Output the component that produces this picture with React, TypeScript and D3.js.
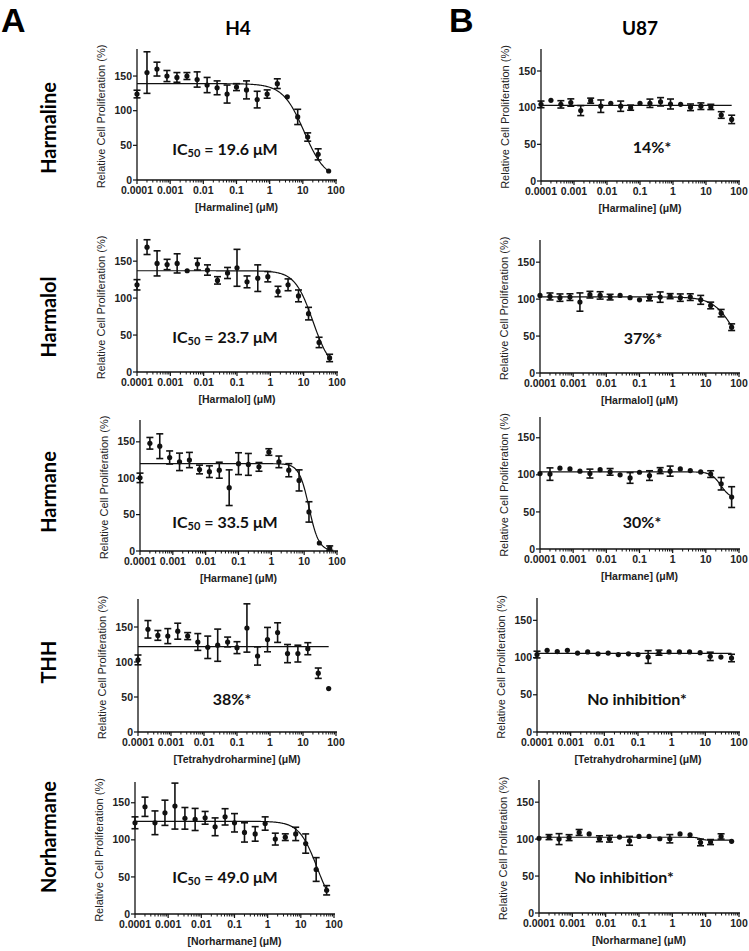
import React from "react";
import * as d3 from "d3";

// ---------- DATA ----------
const doses = [0.0001, 0.0002, 0.0004, 0.0008, 0.0016, 0.0032, 0.0065, 0.013, 0.026, 0.052, 0.1, 0.2, 0.42, 0.84, 1.7, 3.4, 7, 14, 29, 60];

const compounds = ["Harmaline", "Harmalol", "Harmane", "THH", "Norharmane"];
const xTitles = ["[Harmaline] (μM)", "[Harmalol] (μM)", "[Harmane] (μM)", "[Tetrahydroharmine] (μM)", "[Norharmane] (μM)"];
const cellLines = ["H4", "U87"];
const panelLetters = ["A", "B"];
const yTicks = [0, 50, 100, 150];
const xTicks = [0.0001, 0.001, 0.01, 0.1, 1, 10, 100];
const xTickLabels = ["0.0001", "0.001", "0.01", "0.1", "1", "10", "100"];

// H4 means / SEM
const h4Harmaline = [124, 155, 160, 150, 148, 150, 145, 137, 133, 124, 134, 130, 116, 124, 139, 120, 91, 62, 37, 13];
const h4HarmalineErr = [5.5, 30, 10, 8, 7, 5, 11, 11, 10, 13, 5, 13, 12, 6, 7, 0, 11, 6, 8, 0];
const h4Harmalol = [118, 169, 147, 145.5, 147, 137, 146, 138, 124, 134, 141, 122, 127, 129, 109, 118, 103, 79, 40, 19];
const h4HarmalolErr = [7, 10, 17, 7, 13, 0, 8, 7, 5, 7.5, 25, 8, 18, 7, 7, 8, 8, 8.5, 7, 5];
const h4Harmane = [100.5, 148, 144, 128.5, 122.5, 125, 112, 109, 111, 87, 120, 119, 115.6, 136, 122.5, 111, 97, 53.7, 11, 4];
const h4HarmaneErr = [6.5, 8, 17, 9, 12, 10.5, 6, 8, 11, 24.5, 15, 15, 6, 4.5, 8, 9, 14.5, 14, 0, 3];
const h4THH = [103, 146.7, 138, 137, 144, 137, 128.6, 121, 124, 128.6, 120.5, 148.6, 108.6, 132, 142, 112, 112, 119, 84, 62];
const h4THHErr = [7, 12.5, 7, 10.7, 11.4, 5, 12, 16, 23, 7, 8.5, 34.5, 13, 17.4, 14, 13, 12, 8.6, 7.4, 0];
const h4Norharmane = [123, 144.6, 123, 136.5, 145.5, 129, 127.5, 129.7, 117.6, 131, 123, 110, 108, 122, 101, 103.6, 108, 95, 60, 32];
const h4NorharmaneErr = [8, 13, 16, 17, 31, 14.6, 14.9, 8.6, 12, 11, 12.4, 13, 9.8, 9, 8, 4.5, 9, 13, 16, 6.3];

// U87 means / SEM
const u87Harmaline = [104.5, 110, 104.5, 107, 96, 109.5, 102, 106, 102, 100, 106, 106, 108, 105, 104.5, 100.5, 102, 101, 90, 84];
const u87HarmalineErr = [4.5, 0, 5, 5, 6.8, 3.5, 8.5, 0, 7, 3.5, 0, 5.7, 5.7, 6.8, 0, 4.5, 4.5, 3.6, 4.5, 5.7];
const u87Harmalol = [105, 103.6, 102, 102.7, 96, 106, 105, 102.7, 105, 102, 99, 102, 102.7, 104, 102, 102.7, 99, 91.4, 81, 62];
const u87HarmalolErr = [0, 4.7, 5, 4.5, 12.4, 4.5, 5, 3.8, 0, 0, 0, 4.3, 7, 3.4, 5, 4.5, 6, 4.5, 5, 4.5];
const u87Harmane = [101.7, 101, 109, 108, 105, 101.7, 107, 104, 100, 95.8, 103.5, 99, 105.7, 105, 108, 105.7, 104, 101, 88, 70];
const u87HarmaneErr = [0, 8.4, 0, 0, 0, 6, 0, 4.5, 0, 7.2, 0, 6.5, 4, 6.8, 0, 0, 0, 4.5, 8.4, 14];
const u87THH = [104, 109.7, 108, 109.7, 106, 107.5, 105, 106, 104, 105, 104, 100.7, 106.6, 107.5, 107.5, 107.5, 106.6, 101.6, 100.7, 99.4];
const u87THHErr = [4.5, 0, 0, 0, 0, 0, 0, 0, 0, 0, 0, 8.5, 3.4, 0, 0, 0, 0, 5.6, 0, 5];
const u87Norharmane = [101, 102.7, 100, 102, 109, 107, 100.5, 100.5, 102.7, 97.7, 103.6, 103.6, 100.5, 100.5, 107, 105.9, 95.5, 96, 103.6, 97];
const u87NorharmaneErr = [0, 3.4, 7.4, 4, 4, 0, 4, 4.5, 0, 6, 0, 0, 0, 5.6, 0, 0, 4.5, 3.4, 3.6, 0];

// fitted curves [top, bottom, EC50, hill]
const h4Fits = [[139, 0, 11, 1.35], [137, 0, 19, 1.6], [120, 0, 14, 2.9], [122, 122, 1, 1], [125, 0, 31, 1.6]];
const u87Fits = [[103, 103, 1, 1], [103, 0, 85, 1.31], [104, 68, 28, 3], [105.5, 105.5, 1, 1], [102.5, 98.5, 7, 6]];

const h4Notes = ["IC50 = 19.6 μM", "IC50 = 23.7 μM", "IC50 = 33.5 μM", "38%*", "IC50 = 49.0 μM"];
const u87Notes = ["14%*", "37%*", "30%*", "No inhibition*", "No inhibition*"];

// ---------- LAYOUT ----------
const LAYOUT = {
  A: {
    x0: [137, 137, 140, 138, 135], x1: [336, 337, 337, 336, 334],
    yZero: [180, 372, 551, 732, 914], yTop: [49, 239, 420, 599, 782], ymax: [189, 180, 180, 190, 178],
    noteX: [225, 225, 225, 232, 225], noteY: [155, 343, 528, 705, 883],
  },
  B: {
    x0: [541, 540, 540, 537, 539], x1: [739, 739, 739, 739, 739],
    yZero: [181, 373, 549, 732, 913], yTop: [49, 240, 417, 598, 780], ymax: [180, 180, 178, 180, 180],
    noteX: [652, 643, 642, 637, 624], noteY: [153, 344, 528, 705, 883],
  },
};
const rowLabelY = [128, 317, 492, 662, 837];

const ARIAL = "'Liberation Sans', Arial, Helvetica, sans-serif";
const CAL = "Lato, 'Open Sans', sans-serif";
const INK = "#111";

function Note({ text, x, y }: { text: string; x: number; y: number }) {
  if (text.startsWith("IC50")) {
    return (
      <text x={x} y={y} textAnchor="middle" fontFamily={CAL} fontWeight="bold" fontSize={16} fill={INK}>
        <tspan>IC</tspan>
        <tspan fontSize={11} dy={2}>50</tspan>
        <tspan dy={-2}>{text.slice(4)}</tspan>
      </text>
    );
  }
  return (
    <text x={x} y={y} textAnchor="middle" fontFamily={CAL} fontWeight="bold" fontSize={16} fill={INK}>
      {text}
    </text>
  );
}

function Panel(props: {
  mean: number[]; err: number[]; fit: number[]; xTitle: string; note: string;
  x0: number; x1: number; yZero: number; yTop: number; ymax: number; noteX: number; noteY: number;
}) {
  const { mean, err, fit, xTitle, note, x0, x1, yZero, yTop, ymax, noteX, noteY } = props;
  const x = d3.scaleLog().domain([1e-4, 100]).range([x0, x1]);
  const y = d3.scaleLinear().domain([0, ymax]).range([yZero, yTop]);
  const [top, bottom, ec50, hill] = fit;
  const lo = Math.log10(doses[0]);
  const hi = Math.log10(doses[doses.length - 1]);
  const xs = d3.range(0, 241).map((i) => Math.pow(10, lo + ((hi - lo) * i) / 240));
  const curve = d3
    .line<number>()
    .x((d) => x(d))
    .y((d) => y(bottom + (top - bottom) / (1 + Math.pow(d / ec50, hill))))(xs) as string;
  const minor: number[] = [];
  for (let e = -4; e < 2; e++) for (let m = 2; m <= 9; m++) minor.push(m * Math.pow(10, e));
  const midY = (yZero + yTop) / 2 + 2;
  const midX = (x0 + x1) / 2;
  return (
    <g>
      <line x1={x0} x2={x0} y1={yTop} y2={yZero} stroke={INK} strokeWidth={1.3} />
      <line x1={x0} x2={x1 + 1} y1={yZero} y2={yZero} stroke={INK} strokeWidth={1.3} />
      {yTicks.map((t) => (
        <g key={"y" + t}>
          <line x1={x0 - 4} x2={x0} y1={y(t)} y2={y(t)} stroke={INK} strokeWidth={1.2} />
          <text x={x0 - 5} y={y(t) + 3.6} textAnchor="end" fontFamily={ARIAL} fontWeight="bold" fontSize={10.5} fill="#222">
            {t}
          </text>
        </g>
      ))}
      {xTicks.map((t, i) => (
        <g key={"x" + t}>
          <line x1={x(t)} x2={x(t)} y1={yZero} y2={yZero + 4} stroke={INK} strokeWidth={1.2} />
          <text x={x(t)} y={yZero + 14} textAnchor="middle" fontFamily={ARIAL} fontWeight="bold" fontSize={10.5} fill="#222">
            {xTickLabels[i]}
          </text>
        </g>
      ))}
      {minor.map((t) => (
        <line key={"m" + t} x1={x(t)} x2={x(t)} y1={yZero} y2={yZero + 2.5} stroke={INK} strokeWidth={1} />
      ))}
      <text x={midX} y={yZero + 31} textAnchor="middle" fontFamily={ARIAL} fontWeight="bold" fontSize={10.5} fill="#222">
        {xTitle}
      </text>
      <text
        transform={`translate(${x0 - 32},${midY}) rotate(-90)`}
        textAnchor="middle"
        fontFamily={ARIAL}
        fontSize={11}
        fill="#222"
      >
        Relative Cell Proliferation (%)
      </text>
      <path d={curve} fill="none" stroke={INK} strokeWidth={1.2} />
      {mean.map((m, i) =>
        err[i] > 0 ? (
          <g key={"e" + i}>
            <line x1={x(doses[i])} x2={x(doses[i])} y1={y(m - err[i])} y2={y(m + err[i])} stroke={INK} strokeWidth={1.6} />
            <line x1={x(doses[i]) - 3.5} x2={x(doses[i]) + 3.5} y1={y(m - err[i])} y2={y(m - err[i])} stroke={INK} strokeWidth={1.6} />
            <line x1={x(doses[i]) - 3.5} x2={x(doses[i]) + 3.5} y1={y(m + err[i])} y2={y(m + err[i])} stroke={INK} strokeWidth={1.6} />
          </g>
        ) : null
      )}
      {mean.map((m, i) => (
        <circle key={"p" + i} cx={x(doses[i])} cy={y(m)} r={2.6} fill={INK} />
      ))}
      <Note text={note} x={noteX} y={noteY} />
    </g>
  );
}

export default function App() {
  const h4Means = [h4Harmaline, h4Harmalol, h4Harmane, h4THH, h4Norharmane];
  const h4Errs = [h4HarmalineErr, h4HarmalolErr, h4HarmaneErr, h4THHErr, h4NorharmaneErr];
  const u87Means = [u87Harmaline, u87Harmalol, u87Harmane, u87THH, u87Norharmane];
  const u87Errs = [u87HarmalineErr, u87HarmalolErr, u87HarmaneErr, u87THHErr, u87NorharmaneErr];
  const A = LAYOUT.A;
  const B = LAYOUT.B;
  return (
    <svg width={749} height={951} style={{ position: "absolute", left: 0, top: 0, background: "#fff" }}>
      <rect x={0} y={0} width={749} height={951} fill="#fff" />
      <text x={1} y={32} fontFamily={ARIAL} fontWeight="bold" fontSize={34} fill="#000">{panelLetters[0]}</text>
      <text x={449} y={32} fontFamily={ARIAL} fontWeight="bold" fontSize={34} fill="#000">{panelLetters[1]}</text>
      <text x={238} y={35} textAnchor="middle" fontFamily={CAL} fontWeight="bold" fontSize={19} fill="#000">{cellLines[0]}</text>
      <text x={640} y={35} textAnchor="middle" fontFamily={CAL} fontWeight="bold" fontSize={19} fill="#000">{cellLines[1]}</text>
      {compounds.map((c, i) => (
        <text key={c} transform={`translate(56,${rowLabelY[i]}) rotate(-90)`} textAnchor="middle" fontFamily={CAL} fontWeight="bold" fontSize={20} fill="#000">
          {c}
        </text>
      ))}
      {compounds.map((c, i) => (
        <Panel key={"A" + c} mean={h4Means[i]} err={h4Errs[i]} fit={h4Fits[i]} xTitle={xTitles[i]} note={h4Notes[i]}
          x0={A.x0[i]} x1={A.x1[i]} yZero={A.yZero[i]} yTop={A.yTop[i]} ymax={A.ymax[i]} noteX={A.noteX[i]} noteY={A.noteY[i]} />
      ))}
      {compounds.map((c, i) => (
        <Panel key={"B" + c} mean={u87Means[i]} err={u87Errs[i]} fit={u87Fits[i]} xTitle={xTitles[i]} note={u87Notes[i]}
          x0={B.x0[i]} x1={B.x1[i]} yZero={B.yZero[i]} yTop={B.yTop[i]} ymax={B.ymax[i]} noteX={B.noteX[i]} noteY={B.noteY[i]} />
      ))}
    </svg>
  );
}
